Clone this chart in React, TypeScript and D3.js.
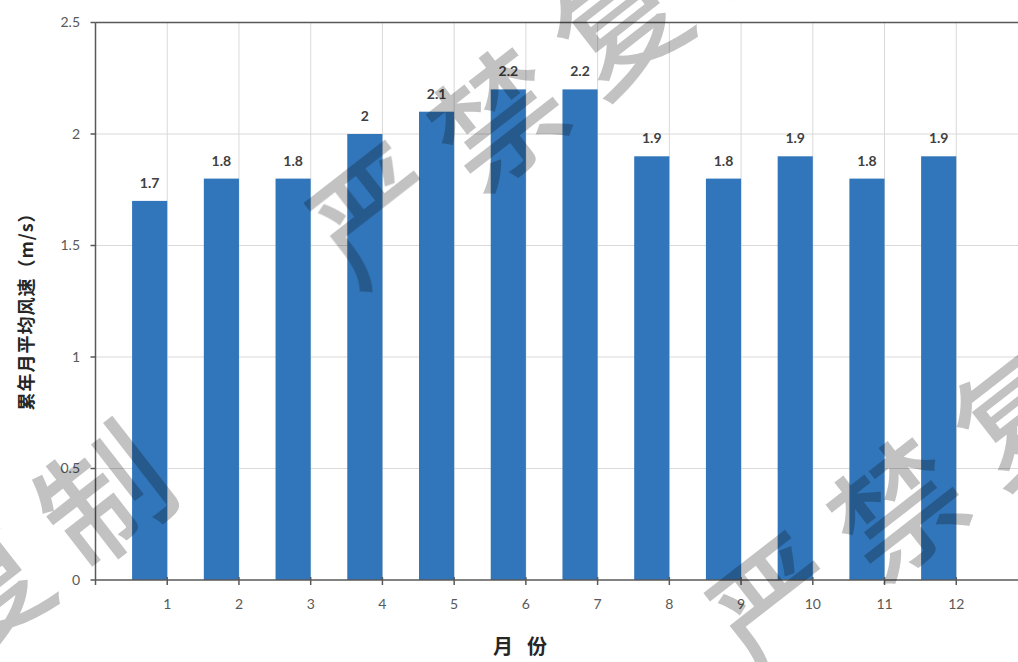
import React from "react";
import * as d3 from "d3";

const months = [1, 2, 3, 4, 5, 6, 7, 8, 9, 10, 11, 12];
const windSpeed = [1.7, 1.8, 1.8, 2, 2.1, 2.2, 2.2, 1.9, 1.8, 1.9, 1.8, 1.9];
const yTicks = [0, 0.5, 1, 1.5, 2, 2.5];
const yTitle = "累年月平均风速（m/s）";
const xTitleChars = ["月", "份"];
const watermarkChars = ["严", "禁", "复", "制"];

const W = 1018;
const H = 662;

export default function App() {
  const x = d3.scaleLinear().domain([0, 13]).range([95.5, 95.5 + 13 * 71.73]);
  const y = d3.scaleLinear().domain([0, 2.5]).range([580, 22.5]);
  const x0 = x(0);
  const font = "Lato, 'Open Sans', sans-serif";
  const cjk = "'Noto Sans CJK SC', sans-serif";

  const step = [122, -95];
  const angle = (Math.atan2(step[1], step[0]) * 180) / Math.PI;
  const wmGroups = [
    { start: [372, 208], idx: [0, 1, 2, 3] },
    { start: [772, 598], idx: [0, 1, 2, 3] },
    { start: [100 - 3 * 122, 490 + 3 * 95], idx: [0, 1, 2, 3] },
  ];

  return (
    <svg
      width={W}
      height={H}
      style={{ position: "absolute", left: 0, top: 0, background: "#fff" }}
    >
      <rect x={0} y={0} width={W} height={H} fill="#fff" />
      {yTicks.slice(1, -1).map((t) => (
        <line key={"hg" + t} x1={x0} x2={W} y1={y(t)} y2={y(t)} stroke="#d9d9d9" strokeWidth={1} />
      ))}
      {months.map((m) => (
        <line key={"vg" + m} x1={x(m)} x2={x(m)} y1={y(2.5)} y2={y(0)} stroke="#d9d9d9" strokeWidth={1} />
      ))}
      {months.map((m, i) => (
        <rect
          key={"b" + m}
          x={x(m - 0.49)}
          y={y(windSpeed[i])}
          width={x(m) - x(m - 0.49)}
          height={y(0) - y(windSpeed[i])}
          fill="#3176ba"
        />
      ))}
      {months.map((m, i) => (
        <text
          key={"l" + m}
          x={x(m - 0.245)}
          y={y(windSpeed[i]) - 13}
          textAnchor="middle"
          fontFamily={font}
          fontWeight="bold"
          fontSize={14}
          fill="#404040"
        >
          {String(windSpeed[i])}
        </text>
      ))}
      <line x1={x0} x2={W} y1={y(2.5)} y2={y(2.5)} stroke="#595959" strokeWidth={1.5} />
      <line x1={x0} x2={W} y1={y(0)} y2={y(0)} stroke="#595959" strokeWidth={1.5} />
      <line x1={x0} x2={x0} y1={y(2.5)} y2={y(0) + 5} stroke="#595959" strokeWidth={1.5} />
      {yTicks.map((t) => (
        <g key={"yt" + t}>
          <line x1={x0 - 5} x2={x0} y1={y(t)} y2={y(t)} stroke="#595959" strokeWidth={1.5} />
          <text
            x={80}
            y={y(t)}
            dy="0.35em"
            textAnchor="end"
            fontFamily={font}
            fontSize={14}
            fill="#595959"
          >
            {String(t)}
          </text>
        </g>
      ))}
      {months.map((m) => (
        <g key={"xt" + m}>
          <line x1={x(m)} x2={x(m)} y1={y(0) - 3} y2={y(0) + 5} stroke="#595959" strokeWidth={1.5} />
          <text
            x={x(m)}
            y={609}
            textAnchor="middle"
            fontFamily={font}
            fontSize={14}
            fill="#595959"
          >
            {String(m)}
          </text>
        </g>
      ))}
      <text
        transform={`translate(25, 307) rotate(-90)`}
        textAnchor="middle"
        dominantBaseline="central"
        fontFamily={cjk}
        fontWeight="bold"
        fontSize={18}
        letterSpacing={1}
        fill="#262626"
      >
        {yTitle}
      </text>
      {xTitleChars.map((c, i) => (
        <text
          key={"xtc" + i}
          x={503 + i * 34}
          y={654}
          textAnchor="middle"
          fontFamily={cjk}
          fontWeight="bold"
          fontSize={20}
          fill="#262626"
        >
          {c}
        </text>
      ))}
      <g style={{ mixBlendMode: "multiply" }}>
        {wmGroups.map((g, gi) =>
          g.idx.map((ci, k) => {
            const cx = g.start[0] + k * step[0];
            const cy = g.start[1] + k * step[1];
            return (
              <text
                key={"wm" + gi + "-" + k}
                transform={`translate(${cx}, ${cy}) rotate(${angle})`}
                textAnchor="middle"
                dominantBaseline="central"
                fontFamily={cjk}
                fontWeight={500}
                fontSize={128}
                fill="#c2c2c2"
              >
                {watermarkChars[ci]}
              </text>
            );
          })
        )}
      </g>
    </svg>
  );
}
